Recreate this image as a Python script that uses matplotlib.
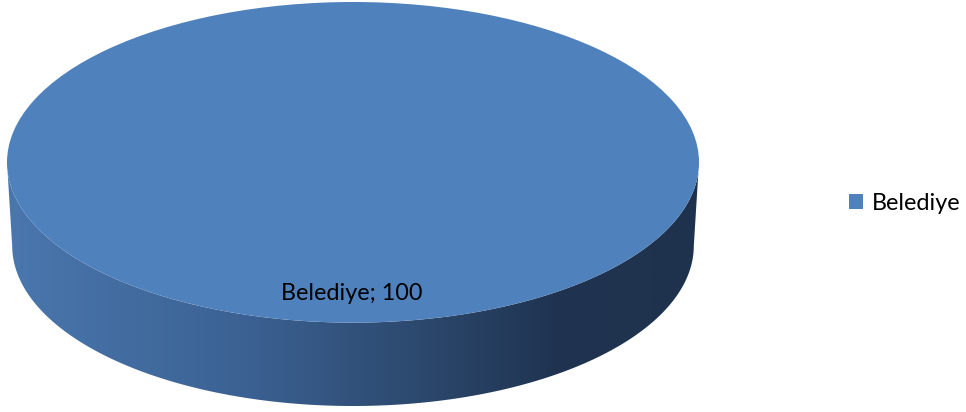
import numpy as np
import matplotlib
matplotlib.use("Agg")
import matplotlib.pyplot as plt
from matplotlib.path import Path
from matplotlib.patches import PathPatch
from matplotlib.colors import LinearSegmentedColormap

categories = ["Belediye"]
values = [100]
colors = ["#4F81BD"]

plt.rcParams['font.family'] = ['Lato', 'DejaVu Sans']

W, H = 966, 412
fig = plt.figure(figsize=(W / 100, H / 100), dpi=100)

# axes placed over the pie region (pixel coords -> figure fractions)
x0, x1 = 7, 699
y_top, y_bot = 2, 406
ax = fig.add_axes([x0 / W, 1 - y_bot / H, (x1 - x0) / W, (y_bot - y_top) / H])

depth = 0.52
wedges, _ = ax.pie(values, colors=colors, startangle=90, counterclock=False,
                   radius=1.0, center=(0, 0), wedgeprops=dict(linewidth=0))
for w in wedges:
    w.set_zorder(3)
ax.set_aspect('auto')
ax.set_xlim(-1, 1)
ax.set_ylim(-1 - depth, 1)
ax.axis('off')

# side of the cylinder
th = np.linspace(np.pi, 2 * np.pi, 200)
shrink = 0.985
top_x, top_y = np.cos(th), np.sin(th)
bot_x, bot_y = shrink * np.cos(th[::-1]), np.sin(th[::-1]) - depth
verts = np.concatenate([np.column_stack([top_x, top_y]),
                        np.column_stack([bot_x, bot_y]),
                        [[top_x[0], top_y[0]]]])
codes = [Path.MOVETO] + [Path.LINETO] * (len(verts) - 2) + [Path.CLOSEPOLY]
side = PathPatch(Path(verts, codes), facecolor='none', edgecolor='none', zorder=2)
ax.add_patch(side)
cmap = LinearSegmentedColormap.from_list(
    "side", [(0.0, "#4A77AE"), (0.35, "#3B6192"), (0.6, "#2C486D"),
             (0.8, "#1F3350"), (1.0, "#1F324D")])
grad = np.linspace(0, 1, 256).reshape(1, -1)
im = ax.imshow(grad, cmap=cmap, extent=(-1, 1, -1 - depth, 0), aspect='auto',
               zorder=2, interpolation='bilinear')
im.set_clip_path(side)

# data label
for cat, val in zip(categories, values):
    ax.text(-0.003, -0.82, f"{cat}; {val}", ha='center', va='center',
            fontsize=16.8, color='black', zorder=5)

# legend
fig.legend(handles=wedges, labels=categories, loc='center left',
           bbox_to_anchor=(840 / W, 1 - 203 / H), frameon=False,
           fontsize=16.8, handlelength=0.6, handleheight=0.6,
           handletextpad=0.35, borderaxespad=0)

fig.savefig("out.png", dpi=100, facecolor='white')
